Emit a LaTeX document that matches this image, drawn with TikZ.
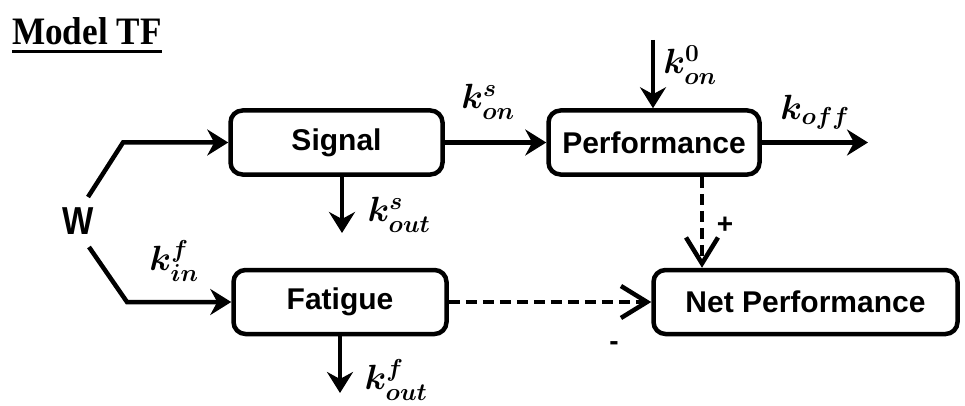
\RequirePackage{fix-cm}
\documentclass[tikz,border=0pt]{standalone}
\usepackage{fontspec}
\setmainfont{Liberation Serif}
\setsansfont{Liberation Sans}
\usetikzlibrary{arrows.meta}
\tikzset{
  box/.style={draw, line width=4.5pt, rounded corners=12pt, minimum height=64pt,
    inner sep=0pt, font=\sffamily\bfseries\fontsize{30}{36}\selectfont},
  flow/.style={line width=4.5pt, -{Stealth[length=21pt,width=26pt,inset=7pt]}},
  dflow/.style={line width=4.5pt, dash pattern=on 11pt off 6pt,
    -{Straight Barb[length=26pt,width=32pt]}},
  rate/.style={inner sep=0pt, font=\boldmath\fontsize{35}{40}\selectfont},
  sign/.style={inner sep=0pt, font=\sffamily\bfseries\fontsize{28}{32}\selectfont},
  ttl/.style={inner sep=0pt, font=\rmfamily\bfseries\fontsize{37}{42}\selectfont}
}
\begin{document}
\begin{tikzpicture}[x=1pt,y=-1pt]
\useasboundingbox (0,0) rectangle (965,406);
% title
\node[ttl, anchor=base west] (title) at (12,45) {\scalebox{0.95}[1.05]{Model TF}};
\draw[line width=3.5pt] ([yshift=-6.5pt]title.base west) -- ([yshift=-6.5pt]title.base east);
% boxes
\node[box, minimum width=212pt] (sig) at (336.5,142.5) {Signal};
\node[box, minimum width=211pt] (perf) at (654,142.5) {Performance};
\node[box, minimum width=213pt] (fat) at (340,302) {Fatigue};
\node[box, minimum width=304pt] (net) at (805.5,302) {Net Performance};
% W
\node[inner sep=0pt, font=\sffamily\bfseries\fontsize{39}{44}\selectfont] (w) at (78,221) {\scalebox{0.85}[1]{W}};
% free ends
\coordinate (wa) at (88,197);
\coordinate (wb) at (123,142.5);
\coordinate (wc) at (89,247);
\coordinate (wd) at (127,302);
\coordinate (so) at (342,233);
\coordinate (fo) at (340,393);
\coordinate (k0) at (653,40);
\coordinate (ko) at (868,142.5);
% connectors
\draw[flow] (wa) -- (wb) -- (sig.west);
\draw[flow] (wc) -- (wd) -- (fat.west);
\draw[flow] (sig.east) -- (perf.west);
\draw[flow] (k0) -- (k0 |- perf.north);
\draw[flow] (perf.east) -- (ko);
\draw[flow] (so |- sig.south) -- (so);
\draw[flow] (fo |- fat.south) -- (fo);
\draw[dflow] ([xshift=48pt]perf.south) -- ([xshift=48pt]perf.south |- net.north);
\draw[dflow] (fat.east) -- (net.west);
% labels
\node[rate] (lkin) at (174,261) {$k^{f}_{in}$};
\node[rate] (lkouts) at (399,215) {$k^{s}_{out}$};
\node[rate] (lkoutf) at (396,380) {$k^{f}_{out}$};
\node[rate] (lkons) at (488,102) {$k^{s}_{on}$};
\node[rate] (lkon0) at (690,65) {$k^{0}_{on}$};
\node[rate] (lkoff) at (815,112) {$k_{off}$};
\node[sign] (plus) at (725,225) {+};
\node[sign] (minus) at (614,346) {-};
\end{tikzpicture}
\end{document}
